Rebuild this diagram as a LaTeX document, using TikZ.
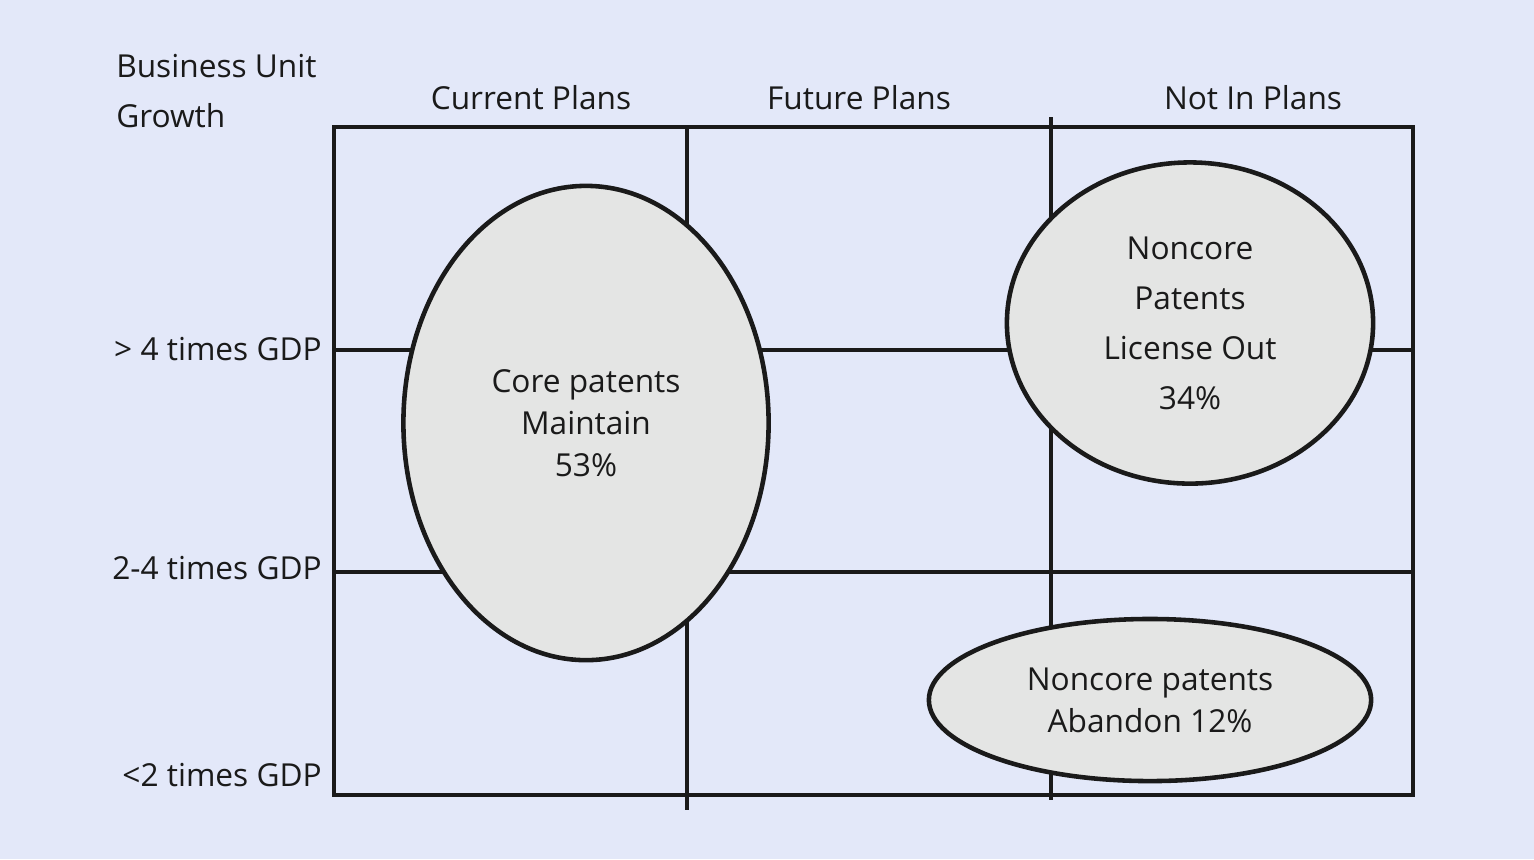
\documentclass[tikz,border=0pt]{standalone}
\usepackage{fontspec}
\setmainfont{Open Sans}
\usepackage{tikz}
\usetikzlibrary{shapes.geometric}

\definecolor{bgblue}{HTML}{E3E8F9}
\definecolor{cellgray}{HTML}{E4E5E4}
\definecolor{inkline}{HTML}{1A1A1A}

\begin{document}
\begin{tikzpicture}
    [x = 0.01cm, y = -0.01cm, line width = 1.3pt,
     every node/.style = {text = inkline, font = \fontsize{9.0}{14.2}\selectfont},
     blob/.style = {ellipse, draw = inkline, fill = cellgray, inner sep = 0pt, align = center},
     lab/.style = {inner sep = 0pt}]
    \fill[bgblue] (0,0) rectangle (1534,859);
    \useasboundingbox (0,0) rectangle (1534,859);
    % grid
    \draw[inkline] (334,127) rectangle (1413,795);
    \draw[inkline] (687,127) -- (687,810);
    \draw[inkline] (1051,117) -- (1051,800);
    \foreach \y in {350,572}
      \draw[inkline] (334,\y) -- (1413,\y);
    % headings
    \node[lab, anchor = base west, align = left] (axis) at (114,127) {Business Unit\\Growth};
    \node[lab, anchor = base] (cur) at (531,109) {Current Plans};
    \node[lab, anchor = base] (fut) at (859,109) {Future Plans};
    \node[lab, anchor = base] (notin) at (1253,109) {Not In Plans};
    \node[lab, anchor = base east] (high) at (324,360) {> 4 times GDP};
    \node[lab, anchor = base east] (mid) at (324,579) {2-4 times GDP};
    \node[lab, anchor = base east] (low) at (324,786) {<2 times GDP};
    % patent groups
    \node[blob, minimum width = 3.65cm, minimum height = 4.74cm,
      font = \fontsize{9.0}{11.9}\selectfont] (core) at (586,423) {Core patents\\Maintain\\53\%};
    \node[blob, minimum width = 3.66cm, minimum height = 3.21cm] (lic) at (1190,323)
      {Noncore\\Patents\\License Out\\34\%};
    \node[blob, minimum width = 4.42cm, minimum height = 1.62cm,
      font = \fontsize{9.0}{11.9}\selectfont] (aband) at (1150,700) {Noncore patents\\Abandon 12\%};
\end{tikzpicture}
\end{document}
